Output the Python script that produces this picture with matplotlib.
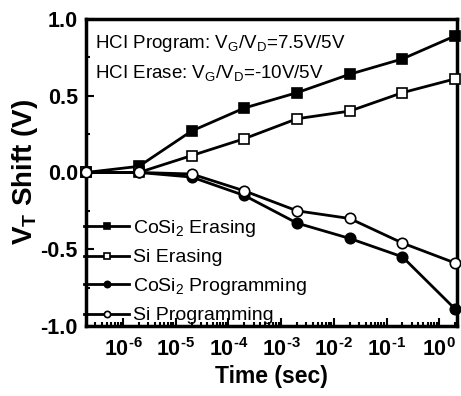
import numpy as np
import matplotlib
matplotlib.use("Agg")
import matplotlib.pyplot as plt
from matplotlib.ticker import FixedLocator, NullFormatter, MultipleLocator, FuncFormatter

plt.rcParams['font.family'] = ['Liberation Sans', 'DejaVu Sans']
plt.rcParams['axes.unicode_minus'] = False
plt.rcParams['mathtext.default'] = 'regular'

# time (sec) and threshold voltage shift (V)
time = [2e-7, 2e-6, 2e-5, 2e-4, 2e-3, 2e-2, 2e-1, 2e0]
cosi2_erase = [0.0, 0.04, 0.27, 0.42, 0.52, 0.64, 0.74, 0.89]
si_erase = [0.0, 0.0, 0.11, 0.22, 0.35, 0.40, 0.52, 0.61]
cosi2_prog = [0.0, 0.0, -0.03, -0.15, -0.33, -0.43, -0.55, -0.89]
si_prog = [0.0, 0.0, -0.01, -0.12, -0.25, -0.30, -0.46, -0.59]
decades = [-6, -5, -4, -3, -2, -1, 0]


def decade(v, pos):
    e = int(round(np.log10(v)))
    return '10$^{%s}$' % (('\u2010%d' % -e) if e < 0 else '%d' % e)


fig = plt.figure(figsize=(4.61, 3.96), dpi=100)
ax = fig.add_axes([0.187, 0.177, 0.805, 0.775])

kw = dict(color='black', lw=2, ms=7.5, mew=1.2, clip_on=False, zorder=3)
ax.plot(time, cosi2_erase, marker='s', mfc='black', label='CoSi$_2$ Erasing', **kw)
ax.plot(time, si_erase, marker='s', mfc='white', label='Si Erasing', **kw)
ax.plot(time, cosi2_prog, marker='o', mfc='black', label='CoSi$_2$ Programming', **kw)
ax.plot(time, si_prog, marker='o', mfc='white', label='Si Programming', **kw)

ax.set_xscale('log')
ax.set_xlim(2e-7, 2.2)
ax.set_ylim(-1.0, 1.0)
ax.xaxis.set_major_locator(FixedLocator([10.0 ** e for e in decades]))
minors = [m * 10.0 ** e for e in range(-7, 1) for m in range(2, 10)]
ax.xaxis.set_minor_locator(FixedLocator([m for m in minors if 2e-7 < m < 2.2]))
ax.xaxis.set_minor_formatter(NullFormatter())
ax.xaxis.set_major_formatter(FuncFormatter(decade))
ax.yaxis.set_major_locator(MultipleLocator(0.5))
ax.yaxis.set_minor_locator(MultipleLocator(0.25))
ax.yaxis.set_major_formatter(FuncFormatter(lambda v, p: '%.1f' % v))

ax.tick_params(which='both', direction='in', width=1.5)
ax.tick_params(which='major', length=6, labelsize=15.5)
ax.tick_params(axis='x', which='major', pad=9)
ax.tick_params(axis='y', which='major', pad=6)
ax.tick_params(which='minor', length=3)
for lab in ax.get_xticklabels() + ax.get_yticklabels():
    lab.set_fontweight('bold')
for s in ax.spines.values():
    s.set_linewidth(2.5)

ax.set_xlabel('Time (sec)', fontsize=16.5, fontweight='bold', labelpad=3)
ax.set_ylabel('V$_T$ Shift (V)', fontsize=20, fontweight='bold', labelpad=0)

ax.text(0.025, 0.92, 'HCI Program: V$_G$/V$_D$=7.5V/5V',
        transform=ax.transAxes, fontsize=13.5, va='center')
ax.text(0.025, 0.825, 'HCI Erase: V$_G$/V$_D$=-10V/5V',
        transform=ax.transAxes, fontsize=13.5, va='center')

ax.legend(loc='lower left', bbox_to_anchor=(-0.005, 0.005), frameon=False,
          fontsize=14, markerscale=0.6, handlelength=2.3, handletextpad=0.2,
          labelspacing=0.5, borderaxespad=0, borderpad=0)

fig.savefig('out.png', dpi=100)
